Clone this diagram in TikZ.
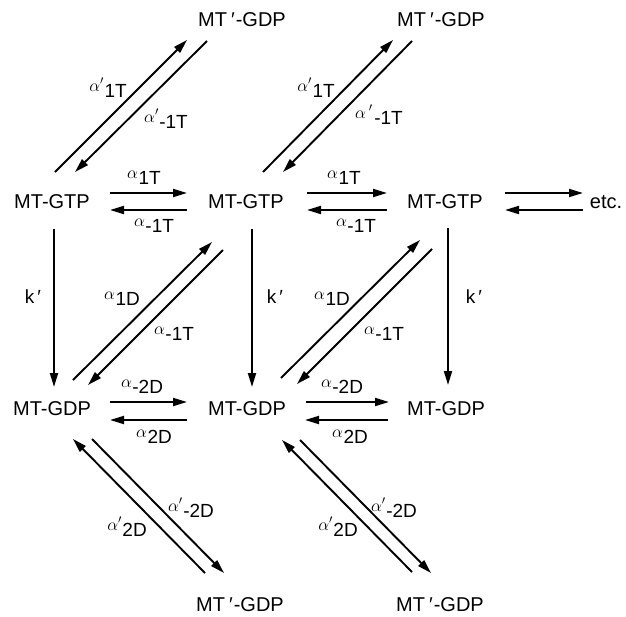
\documentclass[tikz,border=0pt]{standalone}
\usepackage{fontspec}
\setmainfont{Liberation Sans}
\usetikzlibrary{arrows.meta,calc}
\tikzset{
  species/.style={font=\fontsize{20}{20}\selectfont, inner sep=0pt},
  rate/.style={font=\fontsize{19}{19}\selectfont, inner sep=0pt},
  arr/.style={line width=1.9pt, -{Triangle[length=14pt,width=8pt]}},
}
\newcommand{\ratelab}[2]{\raisebox{6.5pt}{\fontsize{17}{17}\selectfont$\alpha#1$}\kern0.5pt#2}
\begin{document}
\begin{tikzpicture}[x=1pt,y=-1pt]
\useasboundingbox (0,0) rectangle (626,616);
% species
\node[species] (p1) at (242,20) {MT\kern4pt′\kern1pt-GDP};
\node[species] (p2) at (441,20) {MT\kern4pt′\kern1pt-GDP};
\node[species] (g1) at (52,202) {MT-GTP};
\node[species] (g2) at (246,202) {MT-GTP};
\node[species] (g3) at (445,202) {MT-GTP};
\node[species] (etc) at (606,202) {etc.};
\node[species] (d1) at (52,409) {MT-GDP};
\node[species] (d2) at (247,409) {MT-GDP};
\node[species] (d3) at (446,409) {MT-GDP};
\node[species] (q1) at (240,605) {MT\kern4pt′\kern1pt-GDP};
\node[species] (q2) at (440,605) {MT\kern4pt′\kern1pt-GDP};
% top diagonals
\draw[arr] ($(g1)+(3,-30)$) -- ($(p1)+(-55,20)$);
\draw[arr] ($(p1)+(-35,21)$) -- ($(g1)+(23,-30)$);
\draw[arr] ($(g2)+(17,-30)$) -- ($(p2)+(-48,20)$);
\draw[arr] ($(p2)+(-29,21)$) -- ($(g2)+(37,-30)$);
% top horizontals
\draw[arr] ($(g1)+(58,-9)$) -- ($(g2)+(-59,-9)$);
\draw[arr] ($(g2)+(-59,8)$) -- ($(g1)+(58,8)$);
\draw[arr] ($(g2)+(61,-9)$) -- ($(g3)+(-58,-9)$);
\draw[arr] ($(g3)+(-58,8)$) -- ($(g2)+(61,8)$);
\draw[arr] ($(g3)+(60,-9)$) -- ($(etc)+(-23,-9)$);
\draw[arr] ($(etc)+(-23,8)$) -- ($(g3)+(60,8)$);
% verticals
\draw[arr] ($(g1)+(2,27)$) -- ($(d1)+(2,-22)$);
\draw[arr] ($(g2)+(6,27)$) -- ($(d2)+(5,-22)$);
\draw[arr] ($(g3)+(3,26)$) -- ($(d3)+(2,-24)$);
% middle diagonals
\draw[arr] ($(d1)+(21,-29)$) -- ($(g2)+(-34,40)$);
\draw[arr] ($(g2)+(-23,48)$) -- ($(d1)+(36,-24)$);
\draw[arr] ($(d2)+(34,-31)$) -- ($(g3)+(-25,38)$);
\draw[arr] ($(g3)+(-13,47)$) -- ($(d2)+(50,-25)$);
% bottom horizontals
\draw[arr] ($(d1)+(58,-7)$) -- ($(d2)+(-60,-7)$);
\draw[arr] ($(d2)+(-60,11)$) -- ($(d1)+(58,11)$);
\draw[arr] ($(d2)+(59,-7)$) -- ($(d3)+(-57,-7)$);
\draw[arr] ($(d3)+(-58,11)$) -- ($(d2)+(58,11)$);
% bottom diagonals
\draw[arr] ($(q1)+(-35,-32)$) -- ($(d1)+(21,30)$);
\draw[arr] ($(d1)+(40,30)$) -- ($(q1)+(-16,-32)$);
\draw[arr] ($(q2)+(-28,-33)$) -- ($(d2)+(35,31)$);
\draw[arr] ($(d2)+(53,31)$) -- ($(q2)+(-9,-32)$);
% rate labels
\node[rate] (r1) at (108,88) {\ratelab{'}{1T}};
\node[rate] (r2) at (166,119) {\ratelab{'}{-1T}};
\node[rate] (r3) at (316,88) {\ratelab{'}{1T}};
\node[rate] (r4) at (379,115) {\ratelab{\,'}{\kern1pt-1T}};
\node[rate] (r5) at (144,178) {\ratelab{}{1T}};
\node[rate] (r6) at (154,226) {\ratelab{}{-1T}};
\node[rate] (r7) at (344,178) {\ratelab{}{1T}};
\node[rate] (r8) at (356,226) {\ratelab{}{-1T}};
\node[rate] (k1) at (33,297) {k\kern3pt′};
\node[rate] (k2) at (275,297) {k\kern3pt′};
\node[rate] (k3) at (474,297) {k\kern3pt′};
\node[rate] (r9) at (122,299) {\ratelab{}{1D}};
\node[rate] (r10) at (174,334) {\ratelab{}{-1T}};
\node[rate] (r11) at (332,299) {\ratelab{}{1D}};
\node[rate] (r12) at (384,334) {\ratelab{}{-1T}};
\node[rate] (r13) at (142,387) {\ratelab{}{-2D}};
\node[rate] (r14) at (154,437) {\ratelab{}{2D}};
\node[rate] (r15) at (342,387) {\ratelab{}{-2D}};
\node[rate] (r16) at (350,437) {\ratelab{}{2D}};
\node[rate] (r17) at (191,508) {\ratelab{'}{-2D}};
\node[rate] (r18) at (127,527) {\ratelab{'}{2D}};
\node[rate] (r19) at (394,508) {\ratelab{'}{-2D}};
\node[rate] (r20) at (338,527) {\ratelab{'}{2D}};
\end{tikzpicture}
\end{document}
